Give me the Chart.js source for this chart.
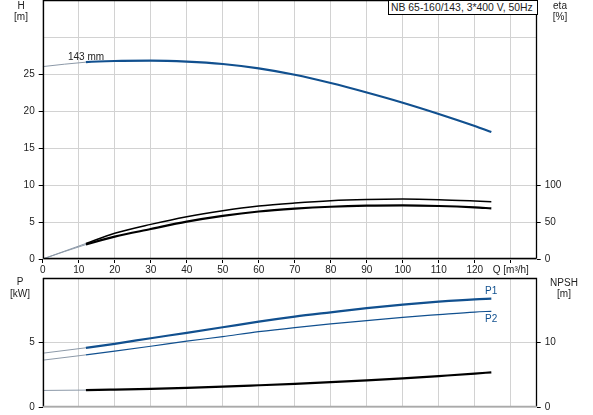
<!DOCTYPE html>
<html>
<head>
<meta charset="utf-8">
<script src="https://cdn.jsdelivr.net/npm/chart.js@4.4.1/dist/chart.umd.min.js"></script>
<style>
  body { margin: 0; width: 593px; height: 415px; position: relative; overflow: hidden; background: #fff;
         font-family: "Liberation Sans", Arial, sans-serif; font-size: 10px; color: #222; }
  canvas { position: absolute; left: 0; }
  #curvas { top: 0; }
  #potencia { top: 276px; }
  .txt { position: absolute; line-height: 12px; white-space: nowrap; }
  .centro { text-align: center; width: 40px; }
  #leyenda { position: absolute; left: 388px; top: 0; width: 146px; height: 13px; border: 1px solid #000;
             background: #fff; font-size: 10.4px; line-height: 13px; padding-left: 2px; white-space: nowrap; }
</style>
</head>
<body>
<canvas id="curvas" width="593" height="276"></canvas>
<canvas id="potencia" width="593" height="139"></canvas>

<div id="leyenda">NB 65-160/143, 3*400 V, 50Hz</div>
<div class="txt centro" style="left:1px;top:0px">H</div>
<div class="txt centro" style="left:1px;top:11px">[m]</div>
<div class="txt centro" style="left:540px;top:0px">eta</div>
<div class="txt centro" style="left:540px;top:11px">[%]</div>
<div class="txt centro" style="left:0px;top:276px">P</div>
<div class="txt centro" style="left:0px;top:288px">[kW]</div>
<div class="txt centro" style="left:544px;top:277px">NPSH</div>
<div class="txt centro" style="left:544px;top:288px">[m]</div>
<div class="txt" style="left:68px;top:51px">143 mm</div>
<div class="txt" style="left:485px;top:285px;color:#11508f">P1</div>
<div class="txt" style="left:485px;top:313px;color:#11508f">P2</div>

<script>
// caudal Q [m3/h]
var caudal = [0, 12, 20, 30, 40, 50, 60, 70, 80, 90, 100, 110, 120, 124.6];
// altura H [m]
var altura = [26.0, 26.6, 26.76, 26.8, 26.67, 26.35, 25.77, 24.9, 23.78, 22.5, 21.12, 19.6, 17.97, 17.16];
// rendimientos eta [%]
var eta1 = [0, 21, 34.7, 46.8, 57.2, 65.3, 71.6, 75.7, 78.8, 80.4, 81, 80.2, 78.4, 77.4];
var eta2 = [0, 19.5, 30.2, 40.5, 50.5, 58.3, 64.2, 68, 70.6, 72, 72.4, 71.6, 69.8, 68.5];
// potencias P1 y P2 [kW]
var p1 = [4.17, 4.59, 4.9, 5.33, 5.75, 6.18, 6.62, 7.01, 7.34, 7.66, 7.94, 8.17, 8.35, 8.4];
var p2 = [3.63, 4.04, 4.33, 4.71, 5.1, 5.46, 5.84, 6.16, 6.44, 6.7, 6.95, 7.16, 7.36, 7.42];
// NPSH [m]
var npsh = [2.57, 2.62, 2.7, 2.82, 2.97, 3.15, 3.37, 3.6, 3.85, 4.13, 4.45, 4.8, 5.17, 5.38];

// ticks con etiqueta
var ticksQ = [0, 10, 20, 30, 40, 50, 60, 70, 80, 90, 100, 110, 120];
var ticksH = [0, 5, 10, 15, 20, 25];
var ticksEta = [0, 50, 100];
var ticksP = [0, 5];
var ticksNpsh = [0, 10];
var inicioRango = 12; // antes de esto la curva va fina

var azul = '#11508f';
var gris = '#d2d2d2';

function puntos(serie) {
    return caudal.map(function (q, i) { return { x: q, y: serie[i] }; });
}

function curva(serie, eje, color, ancho) {
    return {
        data: puntos(serie),
        yAxisID: eje,
        borderColor: color,
        borderWidth: ancho,
        pointRadius: 0,
        cubicInterpolationMode: 'monotone',
        segment: {
            borderWidth: function (ctx) { return ctx.p0.parsed.x < inicioRango ? 1 : ancho; },
            borderColor: function (ctx) { return ctx.p0.parsed.x < inicioRango ? '#8c99a8' : color; }
        }
    };
}

function sinRelleno(s) {
    s.paddingTop = 0;
    s.paddingBottom = 0;
}

function ejeY(pos, max, paso, etiquetas, ancho, rejilla) {
    return {
        position: pos,
        min: 0,
        max: max,
        afterFit: function (s) { s.width = ancho; sinRelleno(s); },
        border: { display: false },
        grid: {
            display: true,
            drawOnChartArea: rejilla,
            color: gris,
            tickLength: 4,
            tickColor: function (ctx) {
                return ctx.tick && etiquetas.indexOf(ctx.tick.value) >= 0 ? '#000' : 'rgba(0,0,0,0)';
            }
        },
        ticks: {
            stepSize: paso,
            includeBounds: false,
            padding: 4,
            color: '#222',
            font: { family: '"Liberation Sans", Arial, sans-serif', size: 10 },
            callback: function (v) { return etiquetas.indexOf(v) >= 0 ? String(v) : ''; }
        }
    };
}

// marco negro del grafico
var marco = {
    id: 'marco',
    afterDraw: function (chart, args, opts) {
        var a = chart.chartArea, c = chart.ctx;
        var l = Math.round(a.left) + 0.5, r = Math.round(a.right) - 0.5;
        var t = Math.round(a.top) + 0.5, b = Math.round(a.bottom) - 0.5;
        c.save();
        c.lineWidth = 1.3;
        c.strokeStyle = '#000';
        c.beginPath();
        c.moveTo(l, b); c.lineTo(l, t); c.lineTo(r, t); c.lineTo(r, b);
        c.stroke();
        c.strokeStyle = opts.abajo || '#000';
        c.beginPath();
        c.moveTo(l, b); c.lineTo(r, b);
        c.stroke();
        c.restore();
    }
};

Chart.defaults.font.family = '"Liberation Sans", Arial, sans-serif';
Chart.defaults.font.size = 10;

new Chart(document.getElementById('curvas'), {
    type: 'line',
    data: {
        datasets: [
            curva(altura, 'yH', azul, 2.2),
            curva(eta1, 'yEta', '#000', 1.5),
            curva(eta2, 'yEta', '#000', 2.2)
        ]
    },
    options: {
        responsive: false,
        animation: false,
        layout: { padding: { top: 0, left: 0, right: 0, bottom: 0 } },
        plugins: { legend: { display: false }, tooltip: { enabled: false }, marco: { abajo: '#000' } },
        scales: {
            x: {
                type: 'linear',
                min: 0,
                max: 137.2,
                afterFit: function (s) { s.height = 17; s.paddingLeft = 0; s.paddingRight = 0; },
                border: { display: false },
                grid: { color: gris, tickLength: 4, tickColor: '#000' },
                ticks: {
                    stepSize: 10,
                    includeBounds: false,
                    autoSkip: false,
                    maxRotation: 0,
                    padding: 1,
                    color: '#222',
                    callback: function (v) {
                        if (v === 130) return 'Q [m\u00b3/h]';
                        return ticksQ.indexOf(v) >= 0 ? String(v) : '';
                    }
                }
            },
            yH: ejeY('left', 35, 5, ticksH, 42.7, true),
            yEta: ejeY('right', 350, 50, ticksEta, 56.3, false)
        }
    },
    plugins: [marco]
});

new Chart(document.getElementById('potencia'), {
    type: 'line',
    data: {
        datasets: [
            curva(p1, 'yP', azul, 2.2),
            curva(p2, 'yP', azul, 1.2),
            curva(npsh, 'yN', '#000', 2.2)
        ]
    },
    options: {
        responsive: false,
        animation: false,
        layout: { padding: { top: 2, left: 0, right: 0, bottom: 0 } },
        plugins: { legend: { display: false }, tooltip: { enabled: false }, marco: { abajo: '#aaaaaa' } },
        scales: {
            x: {
                type: 'linear',
                min: 0,
                max: 137.2,
                afterFit: function (s) { s.height = 8; s.paddingLeft = 0; s.paddingRight = 0; },
                border: { display: false },
                grid: { color: gris, drawTicks: false },
                ticks: { stepSize: 10, includeBounds: false, display: false }
            },
            yP: ejeY('left', 10, 5, ticksP, 42.7, true),
            yN: ejeY('right', 20, 10, ticksNpsh, 56.3, false)
        }
    },
    plugins: [marco]
});
</script>
</body>
</html>
